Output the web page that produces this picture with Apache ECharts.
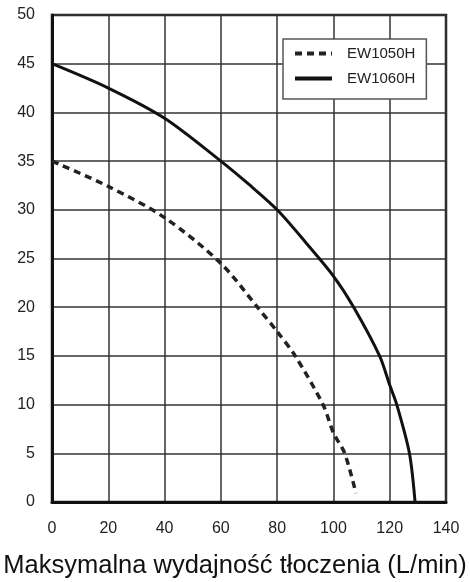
<!DOCTYPE html>
<html>
<head>
<meta charset="utf-8">
<script src="https://cdn.jsdelivr.net/npm/echarts@6/dist/echarts.min.js"></script>
<style>
  html, body { margin: 0; padding: 0; background: #fff; }
  #chart { width: 470px; height: 582px; }
</style>
</head>
<body>
<div id="chart"></div>
<script type="text/javascript">
  // przepływ (L/min) i wysokość podnoszenia
  var ew1050Flow = [0, 20, 40, 60, 73, 80, 86.4, 96.3, 100, 104, 108];
  var ew1050Head = [35, 32.4, 29.2, 24.5, 20, 17.5, 15, 10, 7.1, 5, 0.9];
  var ew1060Flow = [0, 20, 40, 60, 70, 80, 90, 100, 107.2, 116.4, 120, 122.5, 127, 129];
  var ew1060Head = [45, 42.5, 39.4, 35, 32.6, 30, 26.7, 23.2, 20, 15, 12, 10, 5, 0];
  var seriesNames = ['EW1050H', 'EW1060H'];
  var xName = 'Maksymalna wydajność tłoczenia (L/min)';

  function pairs(xs, ys) {
    var out = [];
    for (var i = 0; i < xs.length; i++) out.push([xs[i], ys[i]]);
    return out;
  }

  var font = 'Liberation Sans, Arial, sans-serif';
  var myChart = echarts.init(document.getElementById('chart'));
  var option = {
    animation: false,
    backgroundColor: '#fff',
    title: {
      text: xName,
      left: 'center', top: 553, padding: 0,
      textStyle: { fontFamily: font, fontSize: 25.5, fontWeight: 'normal', color: '#111' }
    },
    grid: {
      left: 52, right: 24, top: 15, bottom: 80,
      outerBoundsMode: 'none',
      show: true, borderColor: '#222', borderWidth: 2.5
    },
    legend: {
      data: seriesNames,
      orient: 'vertical',
      left: 283, top: 39,
      itemWidth: 37, itemHeight: 14, itemGap: 10,
      padding: [7, 11, 13, 10],
      backgroundColor: '#fff',
      borderColor: '#555', borderWidth: 1.5,
      itemStyle: { opacity: 0 },
      lineStyle: { width: 4 },
      textStyle: { fontFamily: font, fontSize: 15, color: '#222', padding: [0, 0, 0, 10] }
    },
    xAxis: {
      type: 'value', min: 0, max: 140, interval: 20,
      axisLine: { show: true, onZero: false, lineStyle: { color: '#111', width: 3 } },
      axisTick: { show: false },
      axisLabel: { margin: 19, fontFamily: font, fontSize: 16, color: '#222' },
      splitLine: { show: true, lineStyle: { color: '#333', width: 1.5 } }
    },
    yAxis: {
      type: 'value', min: 0, max: 50, interval: 5,
      axisLine: { show: true, lineStyle: { color: '#111', width: 3 } },
      axisTick: { show: false },
      axisLabel: { margin: 17, fontFamily: font, fontSize: 16, color: '#222' },
      splitLine: { show: true, lineStyle: { color: '#333', width: 1.5 } }
    },
    series: [
      {
        name: seriesNames[0],
        type: 'line',
        smooth: 0.3,
        symbol: 'none',
        data: pairs(ew1050Flow, ew1050Head),
        itemStyle: { color: '#222' },
        lineStyle: { color: '#222', width: 3.5, type: [7, 5] }
      },
      {
        name: seriesNames[1],
        type: 'line',
        smooth: 0.3,
        symbol: 'none',
        data: pairs(ew1060Flow, ew1060Head),
        itemStyle: { color: '#111' },
        lineStyle: { color: '#111', width: 3 }
      }
    ]
  };
  myChart.setOption(option);
</script>
</body>
</html>
